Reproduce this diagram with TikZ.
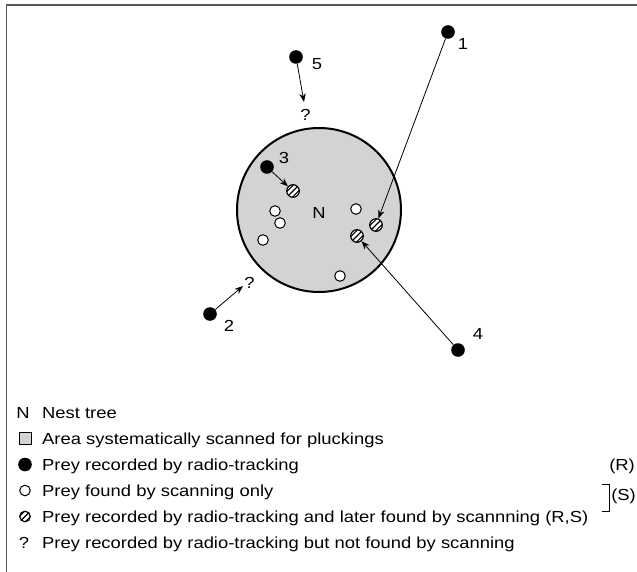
\documentclass[tikz,border=0pt]{standalone}
\usepackage{fontspec}
\setmainfont[FakeStretch=1.15]{Liberation Sans}
\usetikzlibrary{arrows.meta}
\definecolor{areagray}{RGB}{211,211,211}
\definecolor{framegray}{RGB}{85,85,85}
\tikzset{
  dot/.style={circle, fill=black, minimum size=13.6pt, inner sep=0pt},
  opendot/.style={circle, draw=black, line width=1pt, fill=white, minimum size=10.6pt, inner sep=0pt},
  hatchdot/.style={circle, draw=black, line width=1.2pt, fill=white, minimum size=#1, inner sep=0pt,
    path picture={\foreach \o in {-2.8,0,2.8}{\draw[line width=1.1pt] ([shift={(\o pt,-\o pt)}]path picture bounding box.south west) -- ([shift={(\o pt,-\o pt)}]path picture bounding box.north east);}}},
  hatchdot/.default=12.6pt,
  lbl/.style={inner sep=0pt, font=\fontsize{16}{19}\selectfont},
  legtext/.style={inner sep=0pt, anchor=base west, font=\fontsize{16}{19}\selectfont},
  conn/.style={line width=0.8pt, -{Stealth[length=8.5pt,width=6.5pt]}},
}
\begin{document}
\begin{tikzpicture}[x=1pt,y=-1pt]
\useasboundingbox (0,0) rectangle (637,572);
% frame
\draw[line width=1.5pt, framegray] (6.5,572) -- (6.5,5) -- (637,5);
% scanned area
\node[circle, draw=black, line width=2pt, fill=areagray, minimum size=164pt, inner sep=0pt] (area) at (319,210) {};
\node[lbl] (nest) at (319,213) {N};
% scanning-only prey
\node[opendot] (o1) at (275,211) {};
\node[opendot] (o2) at (280,223) {};
\node[opendot] (o3) at (263,240) {};
\node[opendot] (o4) at (356,209) {};
\node[opendot] (o5) at (340,276) {};
% radio + scan prey
\node[hatchdot] (h3) at (293,191) {};
\node[hatchdot] (h1) at (376,225) {};
\node[hatchdot] (h4) at (357,236) {};
% radio-tracked prey
\node[dot] (d1) at (448,32) {};
\node[dot] (d2) at (210,314) {};
\node[dot] (d3) at (267,167) {};
\node[dot] (d4) at (458,350) {};
\node[dot] (d5) at (296,57) {};
\node[lbl] (n1) at (463,44) {1};
\node[lbl] (n2) at (229,326) {2};
\node[lbl] (n3) at (284,158) {3};
\node[lbl] (n4) at (478,334) {4};
\node[lbl] (n5) at (317,64) {5};
\node[lbl] (q5) at (305.5,114.5) {?};
\node[lbl] (q2) at (249.5,282.5) {?};
\coordinate (t5) at (304,102);
\coordinate (t2) at (243,286);
% connectors
\draw[conn] (d1) -- (h1);
\draw[conn] (d4) -- (h4);
\draw[conn] (d3) -- (h3);
\draw[conn] (d5) -- (t5);
\draw[conn] (d2) -- (t2);
% legend
\node[lbl, anchor=base] (lN) at (23,418) {N};
\node[legtext] (tN) at (42,418) {Nest tree};
\node[draw=black, line width=0.8pt, fill=areagray, minimum size=12pt, inner sep=0pt] (lA) at (25,438.5) {};
\node[legtext] (tA) at (42,444) {Area systematically scanned for pluckings};
\node[dot] (lR) at (25,464.5) {};
\node[legtext] (tR) at (42,470) {Prey recorded by radio-tracking};
\node[opendot] (lS) at (25,490.5) {};
\node[legtext] (tS) at (42,496) {Prey found by scanning only};
\node[hatchdot=10.6pt] (lRS) at (25,516.5) {};
\node[legtext] (tRS) at (42,522) {Prey recorded by radio-tracking and later found by scannning (R,S)};
\node[lbl, anchor=base] (lQ) at (24,548) {?};
\node[legtext] (tQ) at (42,548) {Prey recorded by radio-tracking but not found by scanning};
\node[lbl, anchor=base east] (codeR) at (635,470) {(R)};
\node[lbl, anchor=east] (codeS) at (636,496) {(S)};
\draw[line width=0.8pt] (602,484) -- (609,484) -- (609,511) -- (602,511);
\end{tikzpicture}
\end{document}
